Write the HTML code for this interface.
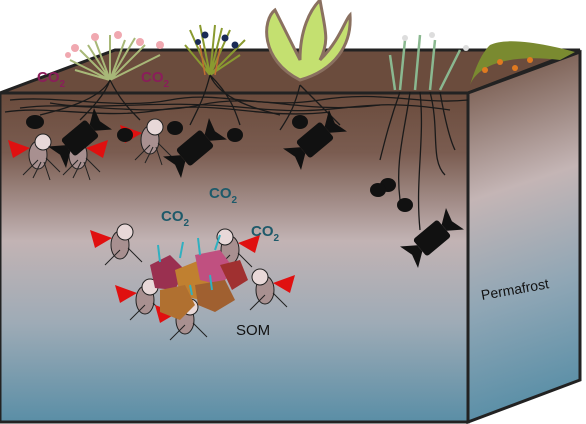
<!DOCTYPE html>
<html><head><meta charset="utf-8"><style>html,body{margin:0;padding:0;background:#fff}svg{display:block}text{font-family:"Liberation Sans",sans-serif}</style></head>
<body>
<svg width="586" height="424" viewBox="0 0 586 424">
<defs>
<linearGradient id="gf" x1="0" y1="0" x2="0" y2="1">
<stop offset="0" stop-color="#6a4b3c"/><stop offset="0.18" stop-color="#7a5c50"/><stop offset="0.45" stop-color="#c2b3b4"/><stop offset="0.7" stop-color="#9eabb6"/><stop offset="1" stop-color="#5a8ea6"/></linearGradient>
<linearGradient id="gr" x1="0" y1="0" x2="0.1" y2="1">
<stop offset="0" stop-color="#6a4b3c"/><stop offset="0.4" stop-color="#c4b5b5"/><stop offset="0.7" stop-color="#8fa6b5"/><stop offset="1" stop-color="#5a8fa7"/></linearGradient>
<g id="candy"><rect x="-16" y="-11" width="32" height="22" rx="3"/><path d="M-16,-4 L-30,-14 L-26,0 L-30,14 L-16,4 Z"/><path d="M16,-4 L30,-14 L26,0 L30,14 L16,4 Z"/></g>
</defs>
<polygon points="0,93 115,50 580,50 468,93" fill="#6b4c3d" stroke="#222" stroke-width="3"/>
<polygon points="0,93 468,93 468,422 0,422" fill="url(#gf)" stroke="#222" stroke-width="3"/>
<polygon points="468,93 580,52 580,380 468,422" fill="url(#gr)" stroke="#222" stroke-width="3"/>
<g>
<g stroke="#a8b878" stroke-width="2" fill="none"><path d="M110,80 L80,50 M110,80 L95,40 M110,80 L110,35 M110,80 L125,40 M110,80 L145,45 M110,80 L160,55 M110,80 L70,60 M110,80 L88,45 M110,80 L135,38 M110,80 L150,60 M110,80 L75,70"/></g>
<g fill="#f0a8b0"><circle cx="75" cy="48" r="4"/><circle cx="95" cy="37" r="4"/><circle cx="118" cy="35" r="4"/><circle cx="140" cy="42" r="4"/><circle cx="160" cy="45" r="4"/><circle cx="68" cy="55" r="3"/></g>
<g stroke="#8a9a30" stroke-width="2" fill="none"><path d="M210,75 L190,30 M210,75 L200,25 M210,75 L215,25 M210,75 L230,30 M210,75 L245,40 M210,75 L185,45 M210,75 L222,28 M210,75 L240,55"/></g>
<g stroke="#c07030" stroke-width="1.5" fill="none"><path d="M205,75 L200,45 M215,75 L220,48"/></g>
<g fill="#1a2a55"><circle cx="205" cy="35" r="3.5"/><circle cx="225" cy="38" r="3.5"/><circle cx="235" cy="45" r="3.5"/><circle cx="198" cy="42" r="3"/></g>
<path d="M300,80 C260,60 262,20 275,10 C285,30 290,40 300,60 C300,30 310,10 320,0 C325,30 330,40 320,60 C340,40 345,20 350,15 C352,45 335,70 300,80 Z" fill="#c4e070" stroke="#8a7060" stroke-width="3"/>
<g stroke="#8ab890" stroke-width="2.5" fill="none"><path d="M400,90 L405,40 M415,90 L420,35 M430,90 L435,40 M440,90 L460,50 M395,90 L390,55"/></g>
<g fill="#ddd"><circle cx="405" cy="38" r="3"/><circle cx="432" cy="35" r="3"/><circle cx="466" cy="48" r="3"/></g>
<path d="M470,85 C480,60 520,55 560,60 L575,52 C560,48 510,35 490,45 C480,55 475,70 470,85 Z" fill="#7a8a30"/>
<g fill="#e07a20"><circle cx="485" cy="70" r="3"/><circle cx="500" cy="62" r="3"/><circle cx="515" cy="68" r="3"/><circle cx="530" cy="60" r="3"/></g>
</g>
<g stroke="#1a1a1a" stroke-width="1.3" fill="none">
<path d="M10,100 C60,95 120,110 170,100 S260,110 320,100 S420,105 468,100"/>
<path d="M20,108 C80,100 140,118 200,105 S300,115 380,105"/>
<path d="M50,103 C100,112 150,98 250,108 S350,95 450,110"/>
<path d="M5,112 C50,105 100,120 160,110 S260,120 330,112"/>
<path d="M110,80 C105,95 90,110 80,120 M110,80 C120,100 130,110 140,120 M110,80 C100,100 60,110 40,115"/>
<path d="M210,75 C205,95 200,105 190,125 M210,75 C230,95 235,110 240,125 M210,75 C220,100 260,110 280,115"/>
<path d="M300,85 C295,105 290,115 280,130 M300,85 C320,105 330,115 340,125"/>
<path d="M410,92 C405,130 395,160 400,200 M420,92 C425,140 415,180 420,230 M430,92 C440,130 430,160 445,175 M440,92 C445,120 450,140 455,150 M400,92 C390,120 385,140 380,160"/>
</g>
<g>
<g transform="translate(38,150)"><path d="M-8,-2 L-30,-10 L-25,8 Z" fill="#e01010"/><ellipse cx="0" cy="5" rx="9" ry="14" fill="#a89090" stroke="#222"/><circle cx="5" cy="-8" r="8" fill="#e8d8d8" stroke="#222"/><path d="M0,10 L-15,25 M3,12 L-5,28 M6,12 L12,30 M8,8 L22,22" stroke="#222"/></g>
<g transform="translate(78,150)"><path d="M8,-2 L30,-10 L25,8 Z" fill="#e01010"/><ellipse cx="0" cy="5" rx="9" ry="14" fill="#a89090" stroke="#222"/><circle cx="-5" cy="-8" r="8" fill="#e8d8d8" stroke="#222"/><path d="M0,10 L-15,25 M3,12 L-5,28 M6,12 L12,30 M8,8 L22,22" stroke="#222"/></g>
<g transform="translate(150,135)"><path d="M-8,-2 L-30,-10 L-25,8 Z" fill="#e01010"/><ellipse cx="0" cy="5" rx="9" ry="14" fill="#a89090" stroke="#222"/><circle cx="5" cy="-8" r="8" fill="#e8d8d8" stroke="#222"/><path d="M0,10 L-15,25 M3,12 L-5,28 M6,12 L12,30 M8,8 L22,22" stroke="#222"/></g>
<g transform="translate(120,240)"><path d="M-8,-2 L-30,-10 L-25,8 Z" fill="#e01010"/><ellipse cx="0" cy="5" rx="9" ry="14" fill="#a89090" stroke="#222"/><circle cx="5" cy="-8" r="8" fill="#e8d8d8" stroke="#222"/><path d="M0,10 L-15,25 M8,8 L22,22" stroke="#222"/></g>
<g transform="translate(230,245)"><path d="M8,-2 L30,-10 L25,8 Z" fill="#e01010"/><ellipse cx="0" cy="5" rx="9" ry="14" fill="#a89090" stroke="#222"/><circle cx="-5" cy="-8" r="8" fill="#e8d8d8" stroke="#222"/><path d="M0,10 L-15,25 M8,8 L22,22" stroke="#222"/></g>
<g transform="translate(265,285)"><path d="M8,-2 L30,-10 L25,8 Z" fill="#e01010"/><ellipse cx="0" cy="5" rx="9" ry="14" fill="#a89090" stroke="#222"/><circle cx="-5" cy="-8" r="8" fill="#e8d8d8" stroke="#222"/><path d="M0,10 L-15,25 M8,8 L22,22" stroke="#222"/></g>
<g transform="translate(145,295)"><path d="M-8,-2 L-30,-10 L-25,8 Z" fill="#e01010"/><ellipse cx="0" cy="5" rx="9" ry="14" fill="#a89090" stroke="#222"/><circle cx="5" cy="-8" r="8" fill="#e8d8d8" stroke="#222"/><path d="M0,10 L-15,25 M8,8 L22,22" stroke="#222"/></g>
<g transform="translate(185,315)"><path d="M-8,-2 L-30,-10 L-25,8 Z" fill="#e01010"/><ellipse cx="0" cy="5" rx="9" ry="14" fill="#a89090" stroke="#222"/><circle cx="5" cy="-8" r="8" fill="#e8d8d8" stroke="#222"/><path d="M0,10 L-15,25 M8,8 L22,22" stroke="#222"/></g>
</g>
<g fill="#111">
<use href="#candy" transform="translate(80,138) rotate(-40)"/>
<use href="#candy" transform="translate(195,148) rotate(-40)"/>
<use href="#candy" transform="translate(315,140) rotate(-40)"/>
<use href="#candy" transform="translate(432,238) rotate(-40)"/>
<ellipse cx="35" cy="122" rx="9" ry="7"/><ellipse cx="125" cy="135" rx="8" ry="7"/><ellipse cx="175" cy="128" rx="8" ry="7"/><ellipse cx="235" cy="135" rx="8" ry="7"/><ellipse cx="300" cy="122" rx="8" ry="7"/><ellipse cx="388" cy="185" rx="8" ry="7"/><ellipse cx="405" cy="205" rx="8" ry="7"/><ellipse cx="378" cy="190" rx="8" ry="7"/>
</g>
<g>
<polygon points="150,265 170,255 185,270 175,290 155,288" fill="#9a3050"/>
<polygon points="175,270 200,260 215,280 200,300 180,295" fill="#c08030"/>
<polygon points="195,255 220,250 235,270 220,285 200,280" fill="#c05080"/>
<polygon points="160,290 185,285 195,305 180,320 160,312" fill="#b07030"/>
<polygon points="195,285 225,280 235,300 215,312 198,305" fill="#a06030"/>
<polygon points="220,265 240,260 248,280 232,290" fill="#a03030"/>
<g stroke="#30b0c0" stroke-width="2"><path d="M160,262 L158,245 M180,258 L183,242 M200,255 L198,238 M215,250 L220,235 M190,285 L192,295 M210,275 L212,290"/></g>
</g>
<g font-weight="bold" font-size="15">
<text x="37" y="82" fill="#8a1e5a">CO<tspan font-size="10" dy="5">2</tspan></text>
<text x="141" y="82" fill="#8a1e5a">CO<tspan font-size="10" dy="5">2</tspan></text>
<text x="209" y="198" fill="#1e5a6a">CO<tspan font-size="10" dy="5">2</tspan></text>
<text x="161" y="221" fill="#1e5a6a">CO<tspan font-size="10" dy="5">2</tspan></text>
<text x="251" y="236" fill="#1e5a6a">CO<tspan font-size="10" dy="5">2</tspan></text>
</g>
<text x="236" y="335" font-size="15" fill="#111">SOM</text>
<text x="482" y="300" font-size="14" fill="#111" transform="rotate(-10 482 300)">Permafrost</text>
</svg>
</body></html>
